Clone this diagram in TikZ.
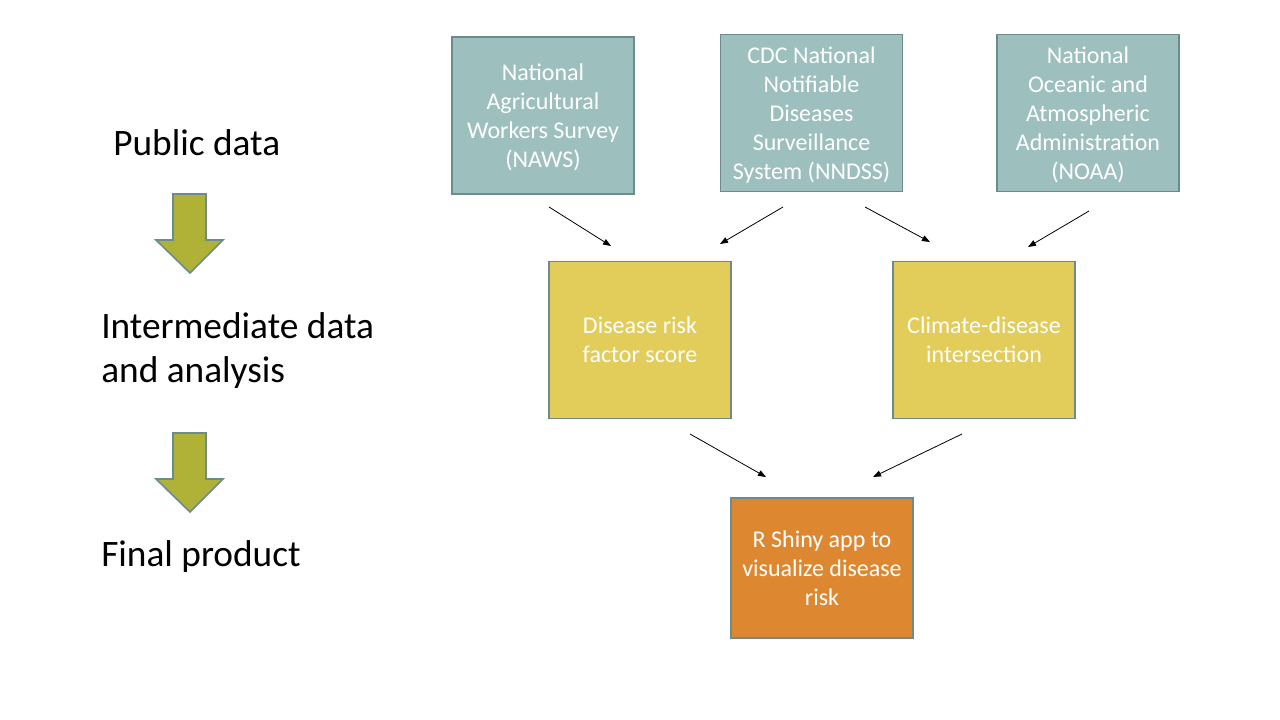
\documentclass[tikz,border=0pt]{standalone}
\usepackage{fontspec}
\setmainfont{Carlito}
\usetikzlibrary{arrows.meta}

\definecolor{srcfill}{RGB}{157,192,190}
\definecolor{midfill}{RGB}{226,204,90}
\definecolor{endfill}{RGB}{221,136,48}
\definecolor{boxline}{RGB}{108,140,140}
\definecolor{stepfill}{RGB}{176,178,55}

\begin{document}
\begin{tikzpicture}[x=0.75pt,y=-0.75pt,
    databox/.style={draw=boxline,line width=1.3pt,text=white,align=center,
      minimum width=136.5pt,minimum height=117.75pt,inner sep=2pt,
      text depth=0pt,font=\fontsize{18}{21.7}\selectfont},
    stagelabel/.style={anchor=west,align=left,inner sep=0pt,
      font=\fontsize{28}{33}\selectfont},
    link/.style={-{Triangle[length=6pt,width=4.5pt]},line width=0.6pt}]

      \useasboundingbox (0,0) rectangle (1280,720);

      % Stage labels on the left.
      \node [stagelabel] (public) at (113,143) {Public data};
      \node [stagelabel] (inter) at (101,351) {Intermediate data\\and analysis};
      \node [stagelabel] (final) at (101,557) {Final product};

      % The two block arrows between the stages.
      \foreach \dy in {0,239}
      {
        \filldraw [fill=stepfill,draw=boxline,line width=1.2pt,line join=miter]
        (173,194+\dy) -- (206,194+\dy) -- (206,240+\dy) -- (223,240+\dy)
        -- (190,273+\dy) -- (156,240+\dy) -- (173,240+\dy) -- cycle;
      }

      % The public data sources.
      \node [databox,fill=srcfill] (naws) at (543,115.5)
      {National\\Agricultural\\Workers Survey\\(NAWS)};
      \node [databox,fill=srcfill] (nndss) at (811.5,113)
      {CDC National\\Notifiable\\Diseases\\Surveillance\\System (NNDSS)};
      \node [databox,fill=srcfill] (noaa) at (1088,113)
      {National\\Oceanic and\\Atmospheric\\Administration\\(NOAA)};

      % Intermediate data and analysis.
      \node [databox,fill=midfill] (riskscore) at (640,340)
      {Disease risk\\factor score};
      \node [databox,fill=midfill] (climate) at (984,340)
      {Climate-disease\\intersection};

      % The final product.
      \node [databox,fill=endfill,minimum height=105pt] (shiny) at (822,568)
      {R Shiny app to\\visualize disease\\risk};

      % Free ends of the connectors.
      \coordinate (naws-out) at (549,207);
      \coordinate (nndss-outl) at (783,207);
      \coordinate (nndss-outr) at (865,207);
      \coordinate (noaa-out) at (1089,211);
      \coordinate (risk-inl) at (611,246);
      \coordinate (risk-inr) at (720,244);
      \coordinate (climate-inl) at (930,242);
      \coordinate (climate-inr) at (1028,247);
      \coordinate (risk-out) at (690,434);
      \coordinate (climate-out) at (962,434);
      \coordinate (shiny-inl) at (766,477);
      \coordinate (shiny-inr) at (873,477);

      % Connectors.
      \draw [link] (naws-out) -- (risk-inl);
      \draw [link] (nndss-outl) -- (risk-inr);
      \draw [link] (nndss-outr) -- (climate-inl);
      \draw [link] (noaa-out) -- (climate-inr);
      \draw [link] (risk-out) -- (shiny-inl);
      \draw [link] (climate-out) -- (shiny-inr);
    \end{tikzpicture}
\end{document}
